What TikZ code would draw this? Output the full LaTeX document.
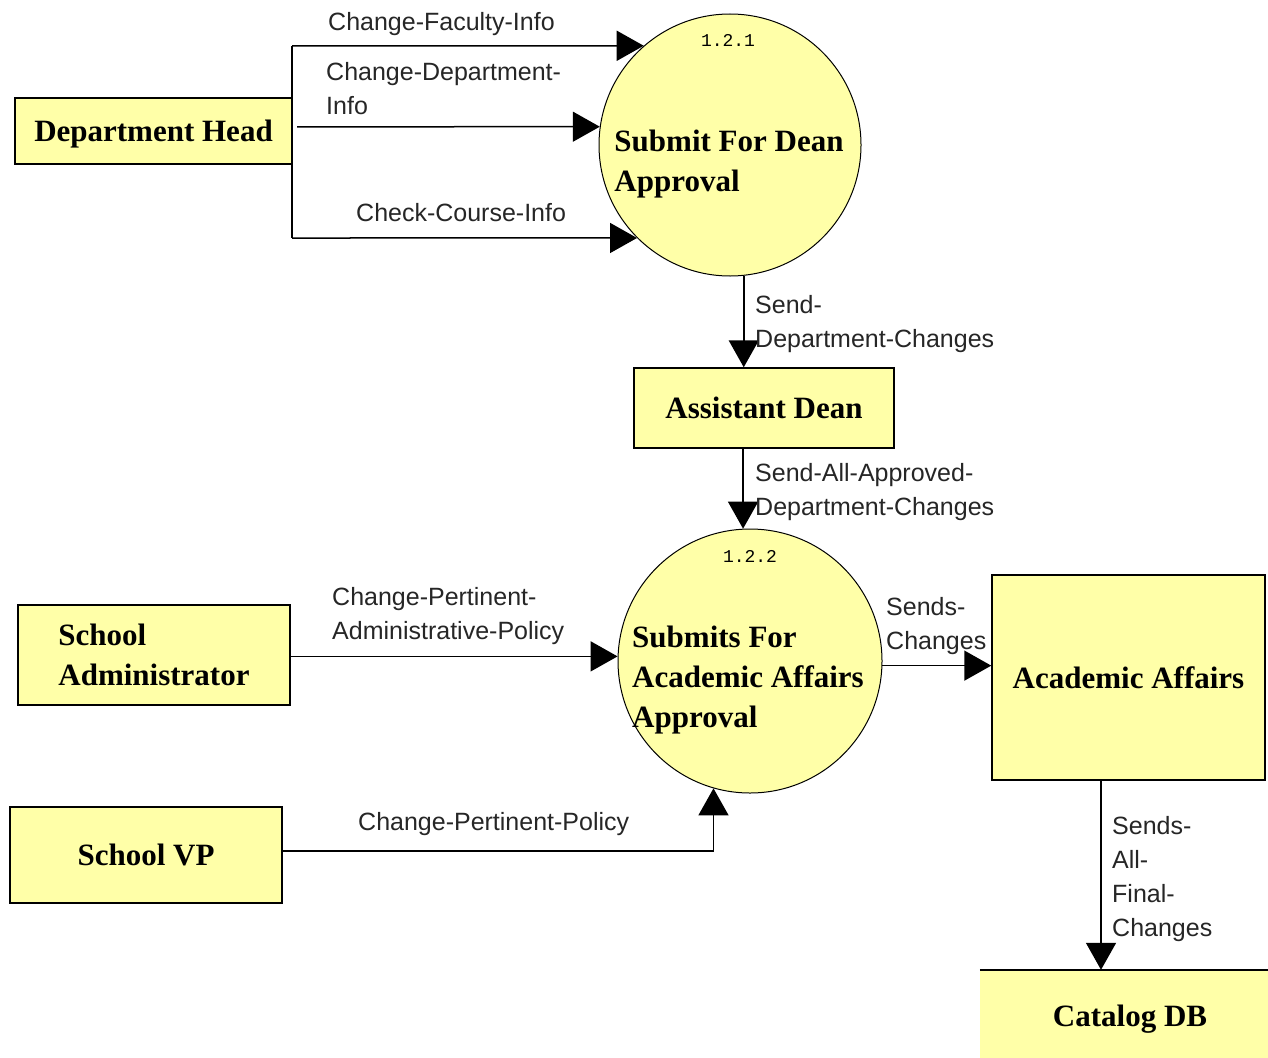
\documentclass[tikz,border=0pt]{standalone}
\usepackage{fontspec}
\setmainfont{Liberation Serif}
\setsansfont{Liberation Sans}
\setmonofont{Liberation Mono}
\usetikzlibrary{arrows.meta}
\definecolor{boxfill}{HTML}{FFFFA8}
\begin{document}
\begin{tikzpicture}[x=1pt,y=-1pt,
 ent/.style={draw=black,line width=1.5pt,fill=boxfill,rectangle,inner sep=0pt,text depth=0pt,font=\fontsize{31}{40}\selectfont\bfseries,align=left},
 proc/.style={draw=black,line width=1pt,fill=boxfill,circle,inner sep=0pt},
 ptext/.style={font=\fontsize{31}{40}\selectfont\bfseries,align=left,inner sep=0pt},
 pnum/.style={font=\fontsize{18}{18}\selectfont\ttfamily,inner sep=0pt},
 lbl/.style={font=\fontsize{25}{34}\selectfont\sffamily,align=left,anchor=west,inner sep=0pt,yshift=-2.5pt,text=black!85},
 flow/.style={line width=1.5pt,-{Triangle[length=27pt,width=30pt]}},
]
\fill[white] (0,0) rectangle (1268,1057);
\useasboundingbox (0,0) rectangle (1268,1057);

% entities
\node[ent,minimum width=277pt,minimum height=66pt] (dh) at (153.5,131) {Department Head};
\node[ent,minimum width=260pt,minimum height=80pt] (ad) at (764,408) {Assistant Dean};
\node[ent,minimum width=272pt,minimum height=100pt] (sa) at (154,655) {School\\Administrator};
\node[ent,minimum width=272pt,minimum height=96pt] (vp) at (146,855) {School VP};
\node[ent,minimum width=273pt,minimum height=205pt] (aa) at (1128.5,677.5) {Academic Affairs};
% data store
\node[fill=boxfill,draw=none,inner sep=0pt,minimum width=290pt,minimum height=90pt] (db) at (1125,1015) {};
\draw[line width=1.5pt] (db.north west) -- (db.north east);
\node[ptext] (dbt) at (1130,1019) {Catalog DB};

% processes
\node[proc,minimum size=262pt] (c1) at (730,145) {};
\node[pnum] (n1) at (728,40) {1.2.1};
\node[ptext] (t1) at (729,164) {Submit For Dean\\Approval};
\node[proc,minimum size=264pt] (c2) at (750,661) {};
\node[pnum] (n2) at (750,556) {1.2.2};
\node[ptext] (t2) at (748,680) {Submits For\\Academic Affairs\\Approval};

% connectors
\coordinate (ja) at (292,46);
\coordinate (jb) at (292,238);
\coordinate (jm) at (297,126.8);
\draw[line width=1.5pt] (ja) -- (jb);
\draw[flow] (ja) -- (c1.131);
\draw[flow] (jm) -- (c1.172);
\draw[flow] (jb) -- (c1.225);
\draw[flow] (c1.-84.3) -- (c1.-84.3 |- ad.north);
\draw[flow] (ad.south -| c2.93) -- (c2.93);
\draw[flow] (sa.east |- c2.178.3) -- (c2.178.3);
\draw[flow] (vp.east |- 0,851) -- (c2.254.6 |- 0,851) -- (c2.254.6);
\draw[flow] (c2.-2.6) -- (c2.-2.6 -| aa.west);
\draw[flow] ([xshift=-27.5pt]aa.south) -- ([xshift=-27.5pt]aa.south |- db.north);

% labels
\node[lbl] (l1) at (328,22) {Change-Faculty-Info};
\node[lbl] (l2) at (326,86.5) {Change-Department-\\Info};
\node[lbl] (l3) at (356,210) {Check-Course-Info};
\node[lbl] (l4) at (755,321.5) {Send-\\Department-Changes};
\node[lbl] (l5) at (755,489.5) {Send-All-Approved-\\Department-Changes};
\node[lbl] (l6) at (332,613.5) {Change-Pertinent-\\Administrative-Policy};
\node[lbl] (l7) at (358,822) {Change-Pertinent-Policy};
\node[lbl] (l8) at (886,623.5) {Sends-\\Changes};
\node[lbl] (l9) at (1112,876.5) {Sends-\\All-\\Final-\\Changes};
\end{tikzpicture}
\end{document}
